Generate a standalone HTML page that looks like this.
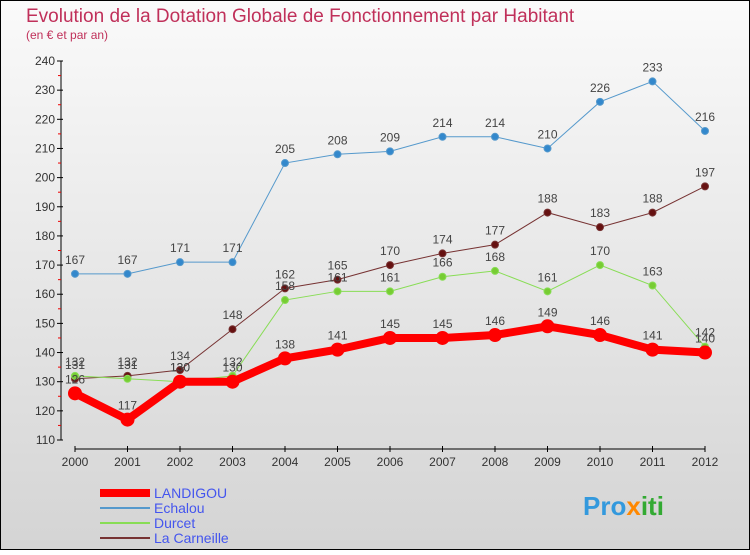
<!DOCTYPE html>
<html><head><meta charset="utf-8"><style>
body{margin:0;width:750px;height:550px;overflow:hidden;font-family:"Liberation Sans",sans-serif}
</style></head><body>
<svg width="750" height="550" xmlns="http://www.w3.org/2000/svg">
<defs><linearGradient id="bg" x1="0" y1="0" x2="0" y2="1"><stop offset="0" stop-color="#fafafa"/><stop offset="1" stop-color="#d4d4d4"/></linearGradient></defs>
<rect x="0.5" y="0.5" width="749" height="549" fill="url(#bg)" stroke="#000"/>
<text x="26" y="22" font-size="19" fill="#c0305a">Evolution de la Dotation Globale de Fonctionnement par Habitant</text>
<text x="26" y="39" font-size="12" fill="#c0305a">(en € et par an)</text>
<g id="axes"></g><g id="series"></g><g id="legend"></g>
<text x="583" y="515" font-size="26" font-weight="bold" fill="#3399dd">Pro<tspan fill="#ff8800">x</tspan><tspan fill="#33aa33">iti</tspan></text>
</svg>
<script>
const years=[2000,2001,2002,2003,2004,2005,2006,2007,2008,2009,2010,2011,2012];
const landigou=[126,117,130,130,138,141,145,145,146,149,146,141,140];
const echalou=[167,167,171,171,205,208,209,214,214,210,226,233,216];
const durcet=[132,131,130,132,158,161,161,166,168,161,170,163,142];
const carneille=[131,132,134,148,162,165,170,174,177,188,183,188,197];
const yTicks=[110,120,130,140,150,160,170,180,190,200,210,220,230,240];
const NS="http://www.w3.org/2000/svg";
const xs=i=>75+i*52.5, ys=v=>440-(v-110)*(379/130);
function mk(p,t,a){const e=document.createElementNS(NS,t);for(const k in a)e.setAttribute(k,a[k]);p.appendChild(e);return e;}
const ax=document.getElementById('axes');
mk(ax,'line',{x1:61,y1:61,x2:61,y2:440,stroke:'#000'});
mk(ax,'line',{x1:75,y1:449,x2:705,y2:449,stroke:'#000'});
yTicks.forEach((v,i)=>{
 mk(ax,'line',{x1:57,y1:ys(v),x2:63,y2:ys(v),stroke:'#000'});
 if(i<yTicks.length-1)mk(ax,'line',{x1:58,y1:ys(v+5),x2:61,y2:ys(v+5),stroke:'#e00'});
 const t=mk(ax,'text',{x:55,y:ys(v)+4,'font-size':12,'text-anchor':'end',fill:'#333'});t.textContent=v;
 
});
years.forEach((y,i)=>{
 mk(ax,'line',{x1:xs(i),y1:446,x2:xs(i),y2:452,stroke:'#000'});
 const t=mk(ax,'text',{x:xs(i),y:466,'font-size':12,'text-anchor':'middle',fill:'#333'});t.textContent=y;
 
});
const sg=document.getElementById('series');
function series(name,data,color,dot,w,r){
 const g=mk(sg,'g',{});
 mk(g,'polyline',{points:data.map((v,i)=>xs(i)+','+ys(v)).join(' '),fill:'none',stroke:color,'stroke-width':w});
 data.forEach((v,i)=>{
  const c=mk(g,'circle',{cx:xs(i),cy:ys(v),r:r,fill:dot,stroke:color,'stroke-width':1});
  
  const t=mk(g,'text',{x:xs(i),y:ys(v)-10,'font-size':12,'text-anchor':'middle',fill:'#444'});t.textContent=v;
 });
}
series('echalou',echalou,'#5599cc','#3388cc',1,3.5);
series('la-carneille',carneille,'#773333','#661111',1,3.5);
series('durcet',durcet,'#88dd55','#77cc33',1,3.5);
series('landigou',landigou,'#ff0000','#ff0000',8,6.5);
const lg=document.getElementById('legend');
const items=[['LANDIGOU','#ff0000',8],['Echalou','#5599cc',2],['Durcet','#88dd55',2],['La Carneille','#773333',2]];
items.forEach((it,i)=>{
 const y=493+i*15;
 const g=mk(lg,'g',{});
 mk(g,'line',{x1:100,y1:y,x2:150,y2:y,stroke:it[1],'stroke-width':it[2]});
 const t=mk(g,'text',{x:154,y:y+5,'font-size':14,fill:'#4455ee'});t.textContent=it[0];
});
</script>
</body></html>
